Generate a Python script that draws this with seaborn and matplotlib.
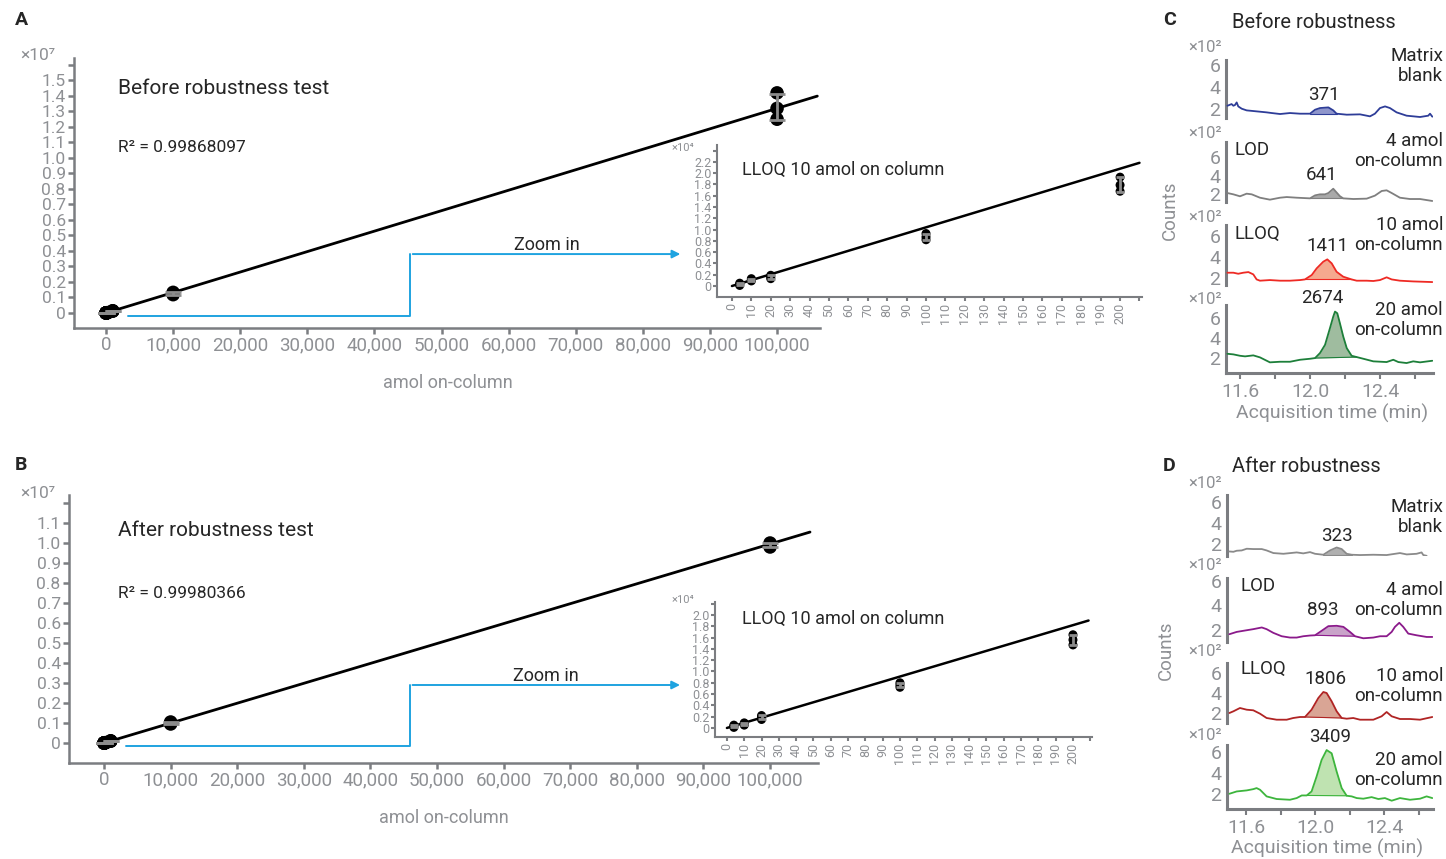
import numpy as np
import pandas as pd
import matplotlib
matplotlib.use("Agg")
import matplotlib.pyplot as plt
import seaborn as sns

sns.set_style("ticks")
plt.rcParams['font.family'] = ['Roboto', 'DejaVu Sans']

AX_GRAY = '#7b7d81'
TXT_GRAY = '#8e9094'
BLUE = '#1fa3e0'

# ============================================================================
# CALIBRATION DATA (amol on-column vs. peak area, 3 replicates each)
# ============================================================================
conc = [4, 10, 20, 100, 200, 1000, 10000, 100000]
area_before = [[100, 300, 500], [900, 1100, 1300], [1300, 1600, 1900],
               [8200, 8700, 9300], [16800, 17900, 19300], [118000, 130000, 142000],
               [1180000, 1250000, 1330000], [12500000, 13200000, 14200000]]
area_after = [[100, 300, 500], [500, 700, 900], [1500, 1900, 2200],
              [7200, 7600, 8000], [14700, 15600, 16500], [90000, 100000, 110000],
              [950000, 1000000, 1050000], [9800000, 9900000, 10000000]]
lloq_conc = [4, 10, 20, 100, 200]

slope_before_main = 132.0
slope_before_lloq = 104.0
slope_after_main = 99.5
slope_after_lloq = 91.0
fit_range_main = [0, 106000]
fit_range_before_lloq = [0, 210]
fit_range_after_lloq = [0, 209]
r2_before = '0.99868097'
r2_after = '0.99980366'

# ============================================================================
# CHROMATOGRAMS (acquisition time in min, counts x10^2)
# ============================================================================
time_c_blank = [11.528, 11.552, 11.562, 11.571, 11.581, 11.590, 11.610, 11.638, 11.695, 11.752,
                11.781, 11.829, 11.886, 11.943, 12.000, 12.029, 12.057, 12.105, 12.133, 12.152,
                12.210, 12.286, 12.343, 12.371, 12.400, 12.429, 12.457, 12.495, 12.552, 12.629,
                12.676, 12.686, 12.699]
counts_c_blank = [2.30, 2.45, 2.30, 2.36, 2.60, 2.24, 2.03, 1.88, 1.79, 1.70,
                  1.64, 1.55, 1.64, 1.58, 1.58, 1.94, 2.09, 2.15, 1.88, 1.58,
                  1.49, 1.52, 1.34, 1.58, 2.09, 2.24, 2.09, 1.70, 1.40, 1.28,
                  1.40, 1.58, 1.31]
time_c_lod = [11.528, 11.562, 11.600, 11.638, 11.667, 11.714, 11.771, 11.829, 11.867, 11.924,
              12.000, 12.029, 12.057, 12.086, 12.105, 12.124, 12.133, 12.152, 12.171, 12.190,
              12.248, 12.324, 12.371, 12.410, 12.438, 12.467, 12.514, 12.571, 12.629, 12.699]
counts_c_lod = [2.14, 2.00, 1.79, 2.07, 2.00, 1.64, 1.43, 1.64, 1.71, 1.64,
                1.57, 1.89, 2.00, 2.00, 2.14, 2.45, 2.60, 2.20, 1.80, 1.57,
                1.50, 1.54, 1.86, 2.36, 2.43, 2.14, 1.64, 1.50, 1.50, 1.29]
time_c_lloq = [11.528, 11.562, 11.590, 11.619, 11.648, 11.676, 11.695, 11.714, 11.771, 11.829,
               11.886, 11.943, 11.971, 12.010, 12.038, 12.076, 12.099, 12.124, 12.152, 12.190,
               12.238, 12.267, 12.324, 12.362, 12.400, 12.438, 12.467, 12.514, 12.590, 12.699]
counts_c_lloq = [2.54, 2.54, 2.44, 2.54, 2.60, 2.38, 1.90, 1.78, 1.84, 1.78,
                 1.78, 1.84, 1.90, 2.32, 2.95, 3.59, 3.81, 3.43, 2.63, 2.16,
                 1.90, 1.78, 1.78, 1.75, 1.84, 2.10, 1.90, 1.78, 1.71, 1.65]
time_c_20 = [11.528, 11.562, 11.600, 11.629, 11.676, 11.714, 11.771, 11.829, 11.886, 11.943,
             12.000, 12.029, 12.057, 12.086, 12.114, 12.133, 12.143, 12.156, 12.171, 12.190,
             12.210, 12.238, 12.267, 12.305, 12.362, 12.438, 12.476, 12.505, 12.552, 12.590,
             12.629, 12.699]
counts_c_20 = [2.43, 2.37, 2.23, 2.17, 2.27, 2.07, 1.57, 1.63, 1.63, 1.83,
               1.93, 2.00, 2.50, 3.33, 5.00, 6.17, 6.67, 6.50, 5.50, 4.17,
               3.00, 2.23, 2.10, 1.93, 1.67, 1.60, 1.83, 1.60, 1.50, 1.67,
               1.57, 1.73]

time_d_blank = [11.504, 11.527, 11.546, 11.575, 11.604, 11.642, 11.691, 11.719, 11.758, 11.816,
                11.893, 11.931, 11.970, 11.999, 12.047, 12.086, 12.124, 12.153, 12.182, 12.211,
                12.259, 12.336, 12.413, 12.490, 12.529, 12.586, 12.615, 12.625, 12.644]
counts_d_blank = [1.27, 1.24, 1.34, 1.37, 1.53, 1.50, 1.50, 1.37, 1.12, 1.05,
                  1.18, 1.09, 1.21, 1.05, 0.96, 1.37, 1.65, 1.50, 1.05, 0.96,
                  0.93, 0.96, 0.93, 1.12, 0.99, 1.05, 1.18, 0.93, 0.86]
time_d_lod = [11.504, 11.546, 11.604, 11.642, 11.691, 11.719, 11.758, 11.806, 11.854, 11.893,
              11.931, 11.970, 11.999, 12.037, 12.076, 12.124, 12.163, 12.201, 12.230, 12.278,
              12.336, 12.375, 12.413, 12.442, 12.461, 12.486, 12.509, 12.538, 12.586, 12.644,
              12.677]
counts_d_lod = [1.61, 1.80, 1.94, 2.03, 2.17, 2.03, 1.72, 1.44, 1.33, 1.33,
                1.44, 1.50, 1.52, 1.89, 2.28, 2.31, 2.22, 1.80, 1.44, 1.27,
                1.33, 1.44, 1.44, 1.80, 2.22, 2.56, 2.22, 1.66, 1.52, 1.38,
                1.38]
time_d_lloq = [11.504, 11.527, 11.565, 11.604, 11.642, 11.681, 11.719, 11.777, 11.835, 11.873,
               11.912, 11.941, 11.979, 12.018, 12.047, 12.066, 12.095, 12.124, 12.153, 12.182,
               12.220, 12.259, 12.336, 12.384, 12.413, 12.442, 12.490, 12.548, 12.606, 12.677]
counts_d_lloq = [2.00, 2.17, 2.50, 2.33, 2.27, 1.93, 1.50, 1.33, 1.33, 1.50,
                 1.60, 1.60, 2.33, 3.50, 4.10, 4.00, 3.17, 2.17, 1.50, 1.43,
                 1.50, 1.33, 1.33, 1.67, 2.10, 1.67, 1.40, 1.40, 1.33, 1.60]
time_d_20 = [11.504, 11.546, 11.604, 11.642, 11.661, 11.681, 11.719, 11.777, 11.854, 11.893,
             11.922, 11.951, 11.979, 12.008, 12.037, 12.066, 12.095, 12.124, 12.153, 12.182,
             12.211, 12.240, 12.278, 12.326, 12.365, 12.403, 12.442, 12.490, 12.548, 12.606,
             12.644, 12.677]
counts_d_20 = [2.00, 2.22, 2.32, 2.44, 2.54, 2.38, 1.75, 1.50, 1.43, 1.59,
               1.84, 1.84, 2.22, 3.64, 5.22, 6.16, 5.85, 4.11, 2.54, 1.81,
               1.75, 1.59, 1.53, 1.68, 1.50, 1.59, 1.34, 1.59, 1.43, 1.53,
               1.75, 1.59]

peak_areas_c = ['371', '641', '1411', '2674']
peak_areas_d = ['323', '893', '1806', '3409']
peak_win_c = [(12.000, 12.152), (12.000, 12.190), (11.971, 12.238), (12.029, 12.267)]
peak_win_d = [(12.047, 12.211), (11.999, 12.230), (11.941, 12.153), (11.951, 12.182)]
sample_labels = ['Matrix\nblank', '4 amol\non-column', '10 amol\non-column', '20 amol\non-column']
line_colors_c = ['#2e3d98', '#7f7f7f', '#ee2a24', '#1d7f3a']
fill_colors_c = ['#8f96cc', '#a9a9a9', '#f5a98f', '#9fbc9f']
line_colors_d = ['#8a8a8a', '#8b1a8b', '#b02424', '#3db53d']
fill_colors_d = ['#b0b0b0', '#c9a3c9', '#d9a595', '#bfe3b1']

# ============================================================================
# FIGURE LAYOUT (pixel helpers)
# ============================================================================
W, H = 1446, 859
fig = plt.figure(figsize=(W / 100, H / 100), dpi=100)


def rect(l, t, r, b):
    return [l / W, 1 - b / H, (r - l) / W, (b - t) / H]


def ftext(px, py, s, **kw):
    kw.setdefault('va', 'center')
    fig.text(px / W, 1 - py / H, s, **kw)


def ylab(v, scale):
    return '0' if v == 0 else f'{v / scale:.1f}'


def draw_calib(ax, xs, reps, slope, fit_x, ms, cap, lw):
    df = pd.DataFrame([(c, v) for c, rr in zip(xs, reps) for v in rr],
                      columns=['amol', 'area'])
    sns.lineplot(x=fit_x, y=[slope * v for v in fit_x], ax=ax, color='black',
                 lw=lw, zorder=2)
    sns.scatterplot(data=df, x='amol', y='area', ax=ax, color='black', s=ms,
                    edgecolor='none', zorder=3)
    st = df.groupby('amol')['area'].agg(['mean', 'std'])
    ax.errorbar(st.index, st['mean'], yerr=st['std'], fmt='none', ecolor='#8c8c8c',
                elinewidth=2, capsize=cap, capthick=2, zorder=4)


def style_calib(ax, xlim, ylim, xt, xt_lab, yt, yt_lab, spine_w, tick_len,
                xsize, ysize, xrot=0):
    ax.set_facecolor('none')
    sns.despine(ax=ax)
    for s in ['left', 'bottom']:
        ax.spines[s].set_color(AX_GRAY)
        ax.spines[s].set_linewidth(spine_w)
    ax.set_xlim(xlim)
    ax.set_ylim(ylim)
    ax.set_xticks(xt)
    ax.set_xticklabels(xt_lab, rotation=xrot)
    ax.set_yticks(yt)
    ax.set_yticklabels(yt_lab)
    ax.tick_params(axis='both', color=AX_GRAY, labelcolor=TXT_GRAY,
                   length=tick_len, width=spine_w, pad=2)
    ax.tick_params(axis='x', labelsize=xsize)
    ax.tick_params(axis='y', labelsize=ysize)
    ax.set_xlabel('')
    ax.set_ylabel('')


def calib_panel(box, inset_box, reps, slope_main, slope_lloq, fit_lloq, xlim, ylim,
                y_top, ixlim, iylim, iy_top, zoom_pts):
    ax = fig.add_axes(rect(*box))
    draw_calib(ax, conc, reps, slope_main, fit_range_main, 95, 6, 2)
    xt = list(range(0, 100001, 10000))
    yt = [i * 1e6 for i in range(0, y_top + 2)]
    yl = [ylab(v, 1e7) for v in yt[:-1]] + ['']
    style_calib(ax, xlim, ylim, xt, [f'{v:,}' for v in xt], yt, yl, 1.8, 4, 13.5, 12.5)
    # zoom-in connector
    x0, x1, x2, yb, yt_ = zoom_pts
    ax.plot([x0, x1, x1], [yb, yb, yt_], color=BLUE, lw=1.4, clip_on=False)
    ax.annotate('', xy=(x2, yt_), xytext=(x1, yt_),
                arrowprops=dict(arrowstyle='-|>', color=BLUE, lw=1.4, mutation_scale=12))
    ax.text((x1 + x2) / 2, yt_, 'Zoom in', ha='center', va='bottom', fontsize=13)

    ins = fig.add_axes(rect(*inset_box))
    draw_calib(ins, lloq_conc, reps[:5], slope_lloq, fit_lloq, 42, 3, 1.8)
    ixt = list(range(0, 211, 10))
    iyt = [i * 1e3 for i in range(0, iy_top + 3, 2)]
    iyl = [ylab(v, 1e4) for v in iyt[:-1]] + ['']
    style_calib(ins, ixlim, iylim, ixt, [str(v) if v <= 200 else '' for v in ixt],
                iyt, iyl, 1.5, 3, 9, 9, xrot=90)
    ins.tick_params(axis='both', pad=1)
    return ax, ins


# ---- Panel A --------------------------------------------------------------
calib_panel((74, 58, 820, 328), (717, 145, 1142, 297), area_before,
            slope_before_main, slope_before_lloq, fit_range_before_lloq,
            (-4770, 106400), (-0.097e7, 1.645e7), 15,
            (-7.7, 211.3), (-0.195e4, 2.5e4), 22,
            (3300, 45300, 86000, -0.019e7, 0.38e7))
ftext(15, 20, 'A', fontsize=14, fontweight='bold')
ftext(38, 55, '×10⁷', fontsize=12.5, color=TXT_GRAY, ha='center')
ftext(118, 88, 'Before robustness test', fontsize=15)
ftext(118, 147, f'R² = {r2_before}', fontsize=12.5)
ftext(742, 170, 'LLOQ 10 amol on column', fontsize=13)
ftext(683, 148, '×10⁴', fontsize=8, color=TXT_GRAY, ha='center')
ftext(448, 383, 'amol on-column', fontsize=13, color=TXT_GRAY, ha='center')

# ---- Panel B --------------------------------------------------------------
calib_panel((69, 495, 818, 763), (715, 602, 1092, 737), area_after,
            slope_after_main, slope_after_lloq, fit_range_after_lloq,
            (-5260, 107200), (-0.1e7, 1.24e7), 11,
            (-6.9, 211), (-0.16e4, 2.23e4), 20,
            (3300, 45900, 86900, -0.015e7, 0.29e7))
ftext(15, 465, 'B', fontsize=14, fontweight='bold')
ftext(38, 494, '×10⁷', fontsize=12.5, color=TXT_GRAY, ha='center')
ftext(118, 530, 'After robustness test', fontsize=15)
ftext(118, 593, f'R² = {r2_after}', fontsize=12.5)
ftext(742, 619, 'LLOQ 10 amol on column', fontsize=13)
ftext(683, 600, '×10⁴', fontsize=8, color=TXT_GRAY, ha='center')
ftext(444, 818, 'amol on-column', fontsize=13, color=TXT_GRAY, ha='center')


# ============================================================================
# CHROMATOGRAM PANELS C / D
# ============================================================================
def draw_chrom(box, t, y, win, lc, fc, ylim, xlim, bottom):
    ax = fig.add_axes(rect(*box))
    ax.set_facecolor('none')
    t = np.array(t)
    y = np.array(y)
    m = (t >= win[0] - 1e-6) & (t <= win[1] + 1e-6)
    tp, yp = t[m], y[m]
    base = yp[0] + (tp - tp[0]) * (yp[-1] - yp[0]) / (tp[-1] - tp[0])
    ax.fill_between(tp, base, yp, color=fc, lw=0, zorder=1)
    ax.plot([tp[0], tp[-1]], [yp[0], yp[-1]], color=lc, lw=0.8, zorder=2)
    sns.lineplot(x=t, y=y, ax=ax, color=lc, lw=1.3, sort=False, zorder=3)
    ax.set_xlim(xlim)
    ax.set_ylim(ylim)
    for s in ['top', 'right']:
        ax.spines[s].set_visible(False)
    ax.spines['left'].set_color(AX_GRAY)
    ax.spines['left'].set_linewidth(2.2)
    ax.set_yticks([2, 4, 6])
    ax.set_yticklabels(['2', '4', '6'])
    ax.tick_params(axis='y', length=0, labelsize=14, labelcolor=TXT_GRAY, pad=4)
    if bottom:
        ax.spines['bottom'].set_color(AX_GRAY)
        ax.spines['bottom'].set_linewidth(2.2)
        ax.set_xticks([11.6, 12.0, 12.4])
        ax.set_xticks([11.8, 12.2, 12.6], minor=True)
        ax.tick_params(axis='x', which='both', length=4, width=1.5, color=AX_GRAY,
                       labelsize=14, labelcolor=TXT_GRAY, pad=3)
    else:
        ax.spines['bottom'].set_visible(False)
        ax.set_xticks([])
    ax.set_xlabel('')
    ax.set_ylabel('')


boxes_c = [(1226, 60, 1433, 118), (1226, 142, 1433, 202),
           (1226, 225, 1433, 285), (1226, 305, 1433, 373)]
ylims_c = [(1.19, 6.44), (1.18, 7.6), (1.37, 7.08), (0.5, 7.33)]
traces_c = [(time_c_blank, counts_c_blank), (time_c_lod, counts_c_lod),
            (time_c_lloq, counts_c_lloq), (time_c_20, counts_c_20)]
for i in range(4):
    draw_chrom(boxes_c[i], traces_c[i][0], traces_c[i][1], peak_win_c[i],
               line_colors_c[i], fill_colors_c[i], ylims_c[i], (11.52, 12.703), i == 3)

boxes_d = [(1227, 495, 1433, 556), (1227, 578, 1433, 642),
           (1227, 663, 1433, 723), (1227, 745, 1433, 809)]
ylims_d = [(0.84, 6.64), (0.96, 6.29), (1.0, 7.0), (0.55, 6.64)]
traces_d = [(time_d_blank, counts_d_blank), (time_d_lod, counts_d_lod),
            (time_d_lloq, counts_d_lloq), (time_d_20, counts_d_20)]
for i in range(4):
    draw_chrom(boxes_d[i], traces_d[i][0], traces_d[i][1], peak_win_d[i],
               line_colors_d[i], fill_colors_d[i], ylims_d[i], (11.49, 12.681), i == 3)

# annotations C
ftext(1163, 20, 'C', fontsize=14, fontweight='bold')
ftext(1314, 22, 'Before robustness', fontsize=14.5, ha='center')
for py in [47, 133, 217, 300]:
    ftext(1205, py, '×10²', fontsize=12, color=TXT_GRAY, ha='center')
for py, lab in zip([66, 151, 235, 320], sample_labels):
    ftext(1443, py, lab, fontsize=13.5, ha='right', linespacing=1.15)
ftext(1235, 150, 'LOD', fontsize=13.5)
ftext(1235, 234, 'LLOQ', fontsize=13.5)
for (px, py), lab in zip([(1324, 95), (1322, 175), (1327, 246), (1322, 298)], peak_areas_c):
    ftext(px, py, lab, fontsize=13.5, ha='center')
ftext(1170, 210, 'Counts', fontsize=13.5, color=TXT_GRAY, ha='center', rotation=90)
ftext(1332, 413, 'Acquisition time (min)', fontsize=14, color=TXT_GRAY, ha='center')

# annotations D
ftext(1163, 466, 'D', fontsize=14, fontweight='bold')
ftext(1306, 466, 'After robustness', fontsize=14.5, ha='center')
for py in [483, 565, 652, 735]:
    ftext(1205, py, '×10²', fontsize=12, color=TXT_GRAY, ha='center')
for py, lab in zip([517, 600, 686, 770], sample_labels):
    ftext(1443, py, lab, fontsize=13.5, ha='right', linespacing=1.15)
ftext(1240, 586, 'LOD', fontsize=13.5)
ftext(1240, 669, 'LLOQ', fontsize=13.5)
for (px, py), lab in zip([(1337, 536), (1323, 610), (1325, 679), (1330, 737)], peak_areas_d):
    ftext(px, py, lab, fontsize=13.5, ha='center')
ftext(1166, 650, 'Counts', fontsize=13.5, color=TXT_GRAY, ha='center', rotation=90)
ftext(1327, 848, 'Acquisition time (min)', fontsize=14, color=TXT_GRAY, ha='center')

fig.savefig('out.png', dpi=100)
